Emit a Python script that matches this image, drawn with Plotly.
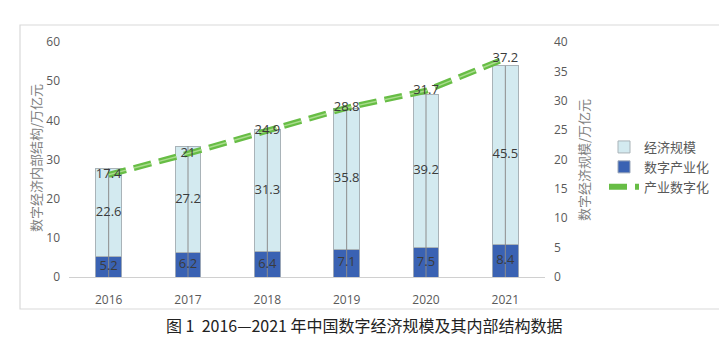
import plotly.graph_objects as go
import numpy as np

years = ["2016", "2017", "2018", "2019", "2020", "2021"]
digital_industry = [5.2, 6.2, 6.4, 7.1, 7.5, 8.4]        # 数字产业化
econ_scale = [22.6, 27.2, 31.3, 35.8, 39.2, 45.5]        # 经济规模
industry_digital = [17.4, 21, 24.9, 28.8, 31.7, 37.2]    # 产业数字化

OFF = 8  # default page body margin
W, H = 727 - 2 * OFF, 364 - 2 * OFF
# target plot area in window pixels
PX0, PX1, PY0, PY1 = 69, 545, 42, 277
L, R, T, B = PX0 - OFF, (727 - OFF) - PX1, PY0 - OFF, (364 - OFF) - PY1
pw, ph = PX1 - PX0, PY1 - PY0

def px(xp):
    return (xp - PX0) / pw

def py(yp):
    return (PY1 - yp) / ph

tick_font = dict(family="Open Sans, Liberation Sans, sans-serif", size=12, color="#595959")
cjk = "Noto Sans CJK SC, sans-serif"

di = np.array(digital_industry)
es = np.array(econ_scale)
tot = di + es

fig = go.Figure()
fig.add_trace(go.Bar(
    x=years, y=digital_industry, name="数字产业化", legendrank=2,
    marker=dict(color="#3a62b3", line=dict(color="#9aa6b8", width=1)),
    hoverinfo="skip"))
fig.add_trace(go.Bar(
    x=years, y=econ_scale, name="经济规模", legendrank=1,
    marker=dict(color="#d3eaf0", line=dict(color="#a9b3b8", width=1)),
    hoverinfo="skip"))

# thin center lines in bars
cx, cy = [], []
for yr, t in zip(years, tot):
    cx += [yr, yr, None]
    cy += [0, t, None]
fig.add_trace(go.Scatter(x=cx, y=cy, mode="lines", line=dict(color="#8c8c8c", width=1),
                         showlegend=False, hoverinfo="skip"))

label_font = dict(family="Open Sans, sans-serif", size=13, color="#3b3b3b")
# bar labels
fig.add_trace(go.Scatter(x=years, y=di / 2, mode="text", text=[str(v) for v in digital_industry],
                         textfont=label_font, showlegend=False, hoverinfo="skip"))
fig.add_trace(go.Scatter(x=years, y=di + es / 2, mode="text", text=[str(v) for v in econ_scale],
                         textfont=label_font, showlegend=False, hoverinfo="skip"))

# line on secondary axis
fig.add_trace(go.Scatter(
    x=years, y=industry_digital, name="产业数字化", yaxis="y2", legendrank=3,
    mode="lines", line=dict(color="#67bd45", width=6, dash="18px,8px"), hoverinfo="skip"))
fig.add_trace(go.Scatter(
    x=years, y=industry_digital, yaxis="y2", showlegend=False,
    mode="lines+text", line=dict(color="#a9dc8c", width=1.5, dash="18px,8px"),
    text=[str(v) for v in industry_digital], textposition="middle center",
    textfont=label_font, hoverinfo="skip"))

fig.update_layout(
    width=W, height=H,
    margin=dict(l=L, r=R, t=T, b=B, autoexpand=False),
    paper_bgcolor="white", plot_bgcolor="white",
    barmode="stack", bargap=0.68,
    xaxis=dict(type="category", showgrid=False, showline=True, linecolor="#d0d0d0", linewidth=1,
               ticks="", tickfont=tick_font, zeroline=False, ticklabelstandoff=12),
    yaxis=dict(range=[0, 60], dtick=10, showgrid=False, zeroline=False, showline=False,
               tickfont=tick_font, ticks="", ticklabelstandoff=8),
    yaxis2=dict(range=[0, 40], dtick=5, overlaying="y", side="right", showgrid=False,
                zeroline=False, showline=False, tickfont=tick_font, ticks="", ticklabelstandoff=8),
    legend=dict(x=px(604), y=py(132), xanchor="left", yanchor="top",
                font=dict(family=cjk, size=13, color="#595959"),
                traceorder="normal", itemwidth=30, tracegroupgap=0, bgcolor="rgba(0,0,0,0)"),
    showlegend=True,
    annotations=[
        dict(text="数字经济内部结构/万亿元", xref="paper", yref="paper", x=px(35), y=py(158),
             xanchor="center", yanchor="middle",
             textangle=-90, showarrow=False, font=dict(family=cjk, size=13, color="#7f7f7f")),
        dict(text="数字经济规模/万亿元", xref="paper", yref="paper", x=px(583), y=py(160),
             xanchor="center", yanchor="middle",
             textangle=-90, showarrow=False, font=dict(family=cjk, size=13, color="#7f7f7f")),
        dict(text="图 1  2016—2021 年中国数字经济规模及其内部结构数据", xref="paper", yref="paper",
             x=px(364), y=py(325), xanchor="center", yanchor="middle", showarrow=False,
             font=dict(family=cjk, size=16, color="#222222")),
    ],
    shapes=[dict(type="rect", xref="paper", yref="paper", x0=px(20), x1=px(720),
                 y0=py(309), y1=py(25), line=dict(color="#d9d9d9", width=1.2), layer="below")],
)

fig.write_html("out.html")
